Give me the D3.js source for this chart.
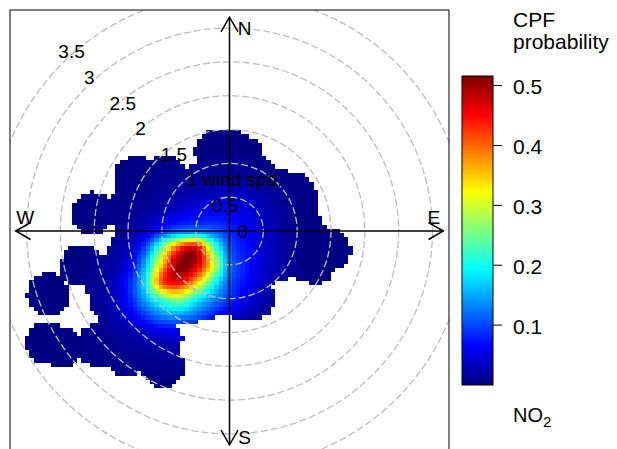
<!DOCTYPE html>
<html>
<head>
<meta charset="utf-8">
<script src="https://cdn.jsdelivr.net/npm/d3@7"></script>
<style>
  body { margin: 0; background: #ffffff; }
  svg { display: block; }
  text { font-family: "Liberation Sans", Arial, sans-serif; fill: #000; }
</style>
</head>
<body>
<svg id="chart" width="617" height="449"></svg>
<script>
// ---- CPF probability surface (NO2), sampled on a 0.25 m/s grid of wind components ----
// u = east component, v = north component (m/s)
const gridU = [-2.0, -1.75, -1.5, -1.25, -1.0, -0.75, -0.5, -0.25, 0, 0.25, 0.5, 0.75, 1.0];
const gridV = [1.0, 0.75, 0.5, 0.25, 0, -0.25, -0.5, -0.75, -1.0, -1.25, -1.5, -1.75, -2.0];
const cpfGrid = [
  [.002, .002, .003, .003, .004, .005, .006, .007, .008, .007, .005, .003, .002],
  [.002, .003, .004, .005, .007, .010, .013, .016, .017, .015, .010, .006, .003],
  [.003, .004, .006, .008, .014, .022, .030, .036, .038, .034, .022, .010, .004],
  [.004, .006, .009, .016, .030, .050, .062, .066, .062, .050, .032, .014, .005],
  [.005, .008, .015, .040, .090, .130, .140, .120, .085, .062, .040, .018, .006],
  [.006, .012, .030, .100, .260, .420, .470, .260, .110, .070, .042, .020, .007],
  [.008, .018, .050, .155, .350, .510, .480, .320, .130, .075, .042, .020, .007],
  [.010, .025, .075, .185, .415, .455, .360, .220, .110, .065, .035, .016, .006],
  [.010, .025, .070, .150, .230, .270, .200, .140, .090, .050, .025, .010, .005],
  [.008, .018, .045, .090, .130, .140, .115, .075, .045, .025, .012, .006, .004],
  [.005, .010, .020, .035, .050, .055, .048, .030, .018, .010, .006, .004, .003],
  [.004, .006, .009, .013, .017, .019, .016, .012, .008, .005, .004, .003, .002],
  [.003, .004, .005, .006, .007, .008, .007, .006, .005, .004, .003, .002, .002]
];
const cpfOutside = 0.002;   // probability away from the sampled window

// ---- Observed wind bins (used to blank out the surface far from any data) ----
// Directions with continuous data from calm up to a maximum speed
const runWd    = [0, 10, 20, 30, 40, 50, 60, 70, 80, 90, 100, 110, 120, 130, 140, 150, 160, 170,
                  180, 190, 200, 210, 220, 230, 240, 250, 260, 270, 280, 290, 300, 310, 320, 330, 340, 350];
const runWsMax = [1.20, 1.13, 0.95, 0.88, 0.85, 0.95, 1.12, 1.05, 1.05, 0.88, 1.50, 1.35, 0.85, 0.62, 0.62, 0.75, 1.05, 1.00,
                  0.80, 0.95, 1.05, 1.25, 2.00, 2.15, 2.05, 2.00, 1.50, 1.40, 1.50, 1.50, 1.60, 1.25, 0.85, 0.75, 0.80, 1.20];
// Isolated bins at higher wind speeds
const binWd = [250.8, 238.4, 235.2, 229.2, 206.4, 256.8, 277.5, 220.0, 212.0];
const binWs = [2.84, 3.17, 3.01, 2.58, 2.23, 2.26, 2.04, 2.39, 1.90];

// ---- Axis / key definitions ----
const ringSpeeds = [0, 0.5, 1, 1.5, 2, 2.5, 3, 3.5];
const ringLabels = ["0", "0.5", "1 wind spd.", "1.5", "2", "2.5", "3", "3.5"];
const compass = [
  { label: "N", u: 0.07, v: 0.95 },
  { label: "E", u: 0.95, v: 0.07 },
  { label: "S", u: 0.07, v: -0.95 },
  { label: "W", u: -0.95, v: 0.07 }
];
const keyTicks = [0.1, 0.2, 0.3, 0.4, 0.5];
const keyMax = 0.516;
const jetColours = ["#00007F", "#0000FF", "#007FFF", "#00FFFF", "#7FFF7F", "#FFFF00", "#FF7F00", "#FF0000", "#7F0000"];

const upper = 3.18;        // extent of the prediction grid (m/s)
const axisLen = 3.16;      // half length of the compass axes (m/s)
const nGrid = 101;         // grid points per side
const excludeDist = 0.31;  // m/s: cells further than this from any bin are left blank

// ---- Scales ----
const svg = d3.select("#chart");
const ext = 3.245;
const x = d3.scaleLinear().domain([-ext, ext]).range([10, 449]);
const y = d3.scaleLinear().domain([ext, -ext]).range([11.5, 450.5]);
const colour = d3.scaleLinear()
  .domain(jetColours.map((c, i) => i / (jetColours.length - 1) * keyMax))
  .range(jetColours)
  .interpolate(d3.interpolateRgb)
  .clamp(true);

// ---- Surface evaluation (Catmull-Rom interpolation of the sampled grid) ----
function node(i, j) {
  if (j < 0 || j >= gridV.length || i < 0 || i >= gridU.length) return cpfOutside;
  return cpfGrid[j][i];
}
function cr(p0, p1, p2, p3, t) {
  return p1 + 0.5 * t * (p2 - p0 + t * (2 * p0 - 5 * p1 + 4 * p2 - p3 + t * (3 * (p1 - p2) + p3 - p0)));
}
const du = gridU[1] - gridU[0];
const dv = gridV[0] - gridV[1];
function cpfAt(u, v) {
  const fu = (u - gridU[0]) / du;
  const fv = (gridV[0] - v) / dv;
  const i = Math.floor(fu), j = Math.floor(fv);
  const tu = fu - i, tv = fv - j;
  const rows = [];
  for (let m = -1; m <= 2; m++) {
    rows.push(cr(node(i - 1, j + m), node(i, j + m), node(i + 1, j + m), node(i + 2, j + m), tu));
  }
  const val = cr(rows[0], rows[1], rows[2], rows[3], tv);
  return Math.max(0, Math.min(keyMax, val));
}

// ---- Data coverage ----
const rad = Math.PI / 180;
function covered(u, v) {
  for (let k = 0; k < runWd.length; k++) {
    const dx = Math.sin(runWd[k] * rad), dy = Math.cos(runWd[k] * rad);
    const t = Math.max(0, Math.min(runWsMax[k], u * dx + v * dy));
    if (Math.hypot(u - t * dx, v - t * dy) <= excludeDist) return true;
  }
  for (let k = 0; k < binWd.length; k++) {
    const bu = binWs[k] * Math.sin(binWd[k] * rad), bv = binWs[k] * Math.cos(binWd[k] * rad);
    if (Math.hypot(u - bu, v - bv) <= excludeDist) return true;
  }
  return false;
}

// ---- Panel ----
svg.append("defs").append("clipPath").attr("id", "panelClip")
  .append("rect").attr("x", 10).attr("y", 10).attr("width", 439).attr("height", 442);

const panel = svg.append("g").attr("clip-path", "url(#panelClip)");

const step = 2 * upper / (nGrid - 1);
const cells = [];
for (let i = 0; i < nGrid; i++) {
  for (let j = 0; j < nGrid; j++) {
    const u = -upper + i * step, v = -upper + j * step;
    if (covered(u, v)) cells.push({ u, v, p: cpfAt(u, v) });
  }
}
const cellW = x(step) - x(0);
panel.append("g").attr("shape-rendering", "crispEdges")
  .selectAll("rect").data(cells).join("rect")
  .attr("x", d => x(d.u - step / 2))
  .attr("y", d => y(d.v + step / 2))
  .attr("width", cellW + 0.4)
  .attr("height", cellW + 0.4)
  .attr("fill", d => colour(d.p));

// dashed speed rings
panel.append("g").selectAll("circle").data(ringSpeeds.filter(r => r > 0)).join("circle")
  .attr("cx", x(0)).attr("cy", y(0))
  .attr("r", d => x(d) - x(0))
  .attr("fill", "none")
  .attr("stroke", "#bdbdbd")
  .attr("stroke-width", 1.3)
  .attr("stroke-dasharray", "7,3");

// ring labels along the north-west diagonal
panel.append("g").selectAll("text").data(ringSpeeds).join("text")
  .attr("x", (d) => x(-1.07 * d * Math.SQRT1_2) + 8)
  .attr("y", (d) => y(1.07 * d * Math.SQRT1_2))
  .attr("dominant-baseline", "central")
  .attr("font-size", "19px")
  .text((d, i) => ringLabels[i]);

// compass axes with open arrow heads at both ends
function arrowLine(g, x1, y1, x2, y2) {
  g.append("line").attr("x1", x1).attr("y1", y1).attr("x2", x2).attr("y2", y2)
    .attr("stroke", "#000").attr("stroke-width", 1.5);
  const len = 17, ang = 30 * rad;
  [[x1, y1, x2, y2], [x2, y2, x1, y1]].forEach(([ax, ay, bx, by]) => {
    const th = Math.atan2(ay - by, ax - bx);
    const pts = [[bx + len * Math.cos(th - ang), by + len * Math.sin(th - ang)],
                 [bx, by],
                 [bx + len * Math.cos(th + ang), by + len * Math.sin(th + ang)]];
    g.append("polyline").attr("points", pts.map(p => p.join(",")).join(" "))
      .attr("fill", "none").attr("stroke", "#000").attr("stroke-width", 1.5);
  });
}
const axesG = panel.append("g");
arrowLine(axesG, x(-axisLen), y(0), x(axisLen), y(0));
arrowLine(axesG, x(0), y(-axisLen), x(0), y(axisLen));

axesG.selectAll("text").data(compass).join("text")
  .attr("x", d => x(d.u * upper))
  .attr("y", d => y(d.v * upper) + 2)
  .attr("text-anchor", "middle")
  .attr("dominant-baseline", "central")
  .attr("font-size", "19px")
  .text(d => d.label);

// panel border
svg.append("rect").attr("x", 10).attr("y", 10).attr("width", 439).attr("height", 442)
  .attr("fill", "none").attr("stroke", "#000").attr("stroke-width", 1);

// ---- Colour key ----
const ky = d3.scaleLinear().domain([0, keyMax]).range([385, 76]);
const grad = svg.select("defs").append("linearGradient").attr("id", "jetKey")
  .attr("x1", 0).attr("y1", 1).attr("x2", 0).attr("y2", 0);
grad.selectAll("stop").data(jetColours).join("stop")
  .attr("offset", (d, i) => i / (jetColours.length - 1))
  .attr("stop-color", d => d);

svg.append("rect").attr("x", 462).attr("y", ky(keyMax)).attr("width", 31).attr("height", ky(0) - ky(keyMax))
  .attr("fill", "url(#jetKey)").attr("stroke", "#000").attr("stroke-width", 1);

const keyG = svg.append("g");
keyG.selectAll("line").data(keyTicks).join("line")
  .attr("x1", 493).attr("x2", 502)
  .attr("y1", d => ky(d)).attr("y2", d => ky(d))
  .attr("stroke", "#000").attr("stroke-width", 1);
keyG.selectAll("text").data(keyTicks).join("text")
  .attr("x", 513).attr("y", d => ky(d) + 1)
  .attr("dominant-baseline", "central")
  .attr("font-size", "21px")
  .text(d => d3.format(".1f")(d));

svg.append("text").attr("x", 513).attr("y", 27).attr("font-size", "21px").text("CPF");
svg.append("text").attr("x", 513).attr("y", 49).attr("font-size", "21px").text("probability");

const no2 = svg.append("text").attr("x", 513).attr("y", 422).attr("font-size", "20px");
no2.append("tspan").text("NO");
no2.append("tspan").attr("font-size", "15px").attr("dy", 5).text("2");
</script>
</body>
</html>
